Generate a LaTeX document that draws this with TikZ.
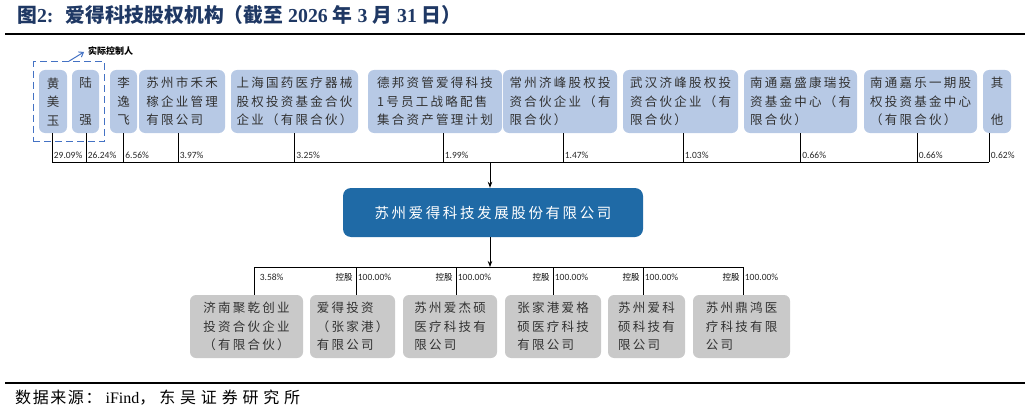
\documentclass[tikz,border=0pt]{standalone}
\usepackage{fontspec}
\setmainfont{Liberation Serif}
\newfontfamily\cjkfont{Noto Sans CJK SC}
\newfontfamily\boxfont[LetterSpace=18]{Noto Sans CJK SC}
\newfontfamily\srcfont[LetterSpace=10]{Noto Sans CJK SC}
\newfontfamily\srcwidefont[LetterSpace=30]{Noto Sans CJK SC}
\newfontfamily\pctfont{Carlito}
\usetikzlibrary{arrows.meta,fit,positioning}
\definecolor{topblue}{RGB}{183,201,229}
\definecolor{botgray}{RGB}{201,201,201}
\definecolor{mainblue}{RGB}{31,106,166}
\definecolor{ctrlblue}{RGB}{68,114,196}
\definecolor{titleblue}{RGB}{31,56,100}
\definecolor{boxtext}{RGB}{50,50,50}
\newcommand\tnum[1]{{\rmfamily\bfseries #1}}
\tikzset{
  tbox/.style={rounded corners=6pt,fill=topblue,inner sep=0pt,minimum height=63pt,align=left,text=boxtext,font=\boxfont\fontsize{12.5}{18.5}\selectfont},
  bbox/.style={tbox,fill=botgray},
  pct/.style={font=\pctfont\fontsize{9.5}{11}\selectfont,inner sep=1.5pt,text=black!85},
  link/.style={line width=0.8pt},
}
\begin{document}
\begin{tikzpicture}[x=1pt,y=-1pt]
\useasboundingbox(0,0)rectangle(1031,412);
%title and rules
\node[anchor=west,inner sep=0pt,text=titleblue,font=\cjkfont\bfseries\fontsize{19.8}{22}\selectfont]at(17,15)(title){图\tnum{2:}\hspace{12pt}爱得科技股权机构（截至\tnum{ 2026 }年\tnum{ 3 }月\tnum{ 31 }日）};
\draw[line width=2.2pt](5,34)--(1025,34);
\draw[line width=1.5pt](5,383)--(1025,383);
\node[anchor=west,inner sep=0pt,font=\srcfont\fontsize{16}{18}\selectfont]at(15,398)(src){数据来源：\hspace{4pt}{\rmfamily iFind}，\hspace{4pt}{\srcwidefont 东吴证券研究所}};

%shareholders
\node[tbox,align=center,minimum width=28pt]at(53,101.5)(hmy){黄\\美\\玉};
\node[tbox,align=center,minimum width=27pt]at(85.5,101.5)(lq){陆\\\phantom{陆}\\强};
\node[tbox,align=center,minimum width=27pt]at(123.5,101.5)(lyf){李\\逸\\飞};
\node[tbox,minimum width=86pt]at(182,101.5)(hhj){苏州市禾禾\\稼企业管理\\有限公司};
\node[tbox,minimum width=127pt]at(294.5,101.5)(shgy){上海国药医疗器械\\股权投资基金合伙\\企业（有限合伙）};
\node[tbox,minimum width=134pt]at(435,101.5)(db){德邦资管爱得科技\\1号员工战略配售\\集合资产管理计划};
\node[tbox,minimum width=114pt]at(560,101.5)(czjf){常州济峰股权投\\资合伙企业（有\\限合伙）};
\node[tbox,minimum width=115pt]at(680.5,101.5)(whjf){武汉济峰股权投\\资合伙企业（有\\限合伙）};
\node[tbox,minimum width=113pt]at(800.5,101.5)(ntjs){南通嘉盛康瑞投\\资基金中心（有\\限合伙）};
\node[tbox,minimum width=113pt]at(920.5,101.5)(ntjl){南通嘉乐一期股\\权投资基金中心\\（有限合伙）};
\node[tbox,align=center,minimum width=28pt]at(997,101.5)(qt){其\\\phantom{其}\\他};

%actual controllers
\node[draw=ctrlblue,dashed,dash pattern=on 7pt off 4pt,line width=1.3pt,inner xsep=5.5pt,inner ysep=8pt,fit=(hmy)(lq)](ctrl){};
\node[anchor=west,inner sep=0pt,font=\cjkfont\bfseries\fontsize{9}{10}\selectfont]at(88,51)(sjkzr){实际控制人};
\draw[ctrlblue,line width=1pt,-{Straight Barb[length=4pt,width=6pt]}](ctrl.north)--([xshift=-4pt,yshift=-1pt]sjkzr.west);

%upper bus with holdings
\coordinate(tbus)at(0,162);
\foreach \n/\s/\p in {hmy/-1/29.09,lq/0.5/26.24,lyf/0/6.56,hhj/-4/3.97,shgy/0/3.25,db/8/1.99,czjf/3/1.47,whjf/2.5/1.03,ntjs/0/0.66,ntjl/-3.5/0.66,qt/-8/0.62}{
\draw[link]([xshift=\s pt]\n.south)--([xshift=\s pt]\n.south |- tbus)node[pct,pos=0.76,right]{\p\%};
}
\draw[link]([xshift=-1pt]hmy.south |- tbus)--([xshift=-8pt]qt.south |- tbus);

%company
\node[rounded corners=8pt,fill=mainblue,minimum width=300pt,minimum height=49pt,inner sep=0pt,text=white,font=\boxfont\fontsize{14.5}{16}\selectfont]at(493,212.5)(aide){苏州爱得科技发展股份有限公司};
\draw[link,-{Stealth[length=6pt,width=4.5pt]}]([xshift=-3pt]aide.north |- tbus)--([xshift=-3pt]aide.north);

%subsidiaries
\node[bbox,minimum width=113pt]at(246.5,326.5)(jn){济南聚乾创业\\投资合伙企业\\（有限合伙）};
\node[bbox,minimum width=85pt]at(352.5,326.5)(adtz){爱得投资\\（张家港）\\有限公司};
\node[bbox,minimum width=94pt]at(450,326.5)(ajs){苏州爱杰硕\\医疗科技有\\限公司};
\node[bbox,minimum width=96pt]at(553,326.5)(agsh){张家港爱格\\硕医疗科技\\有限公司};
\node[bbox,minimum width=77pt]at(646.5,326.5)(aks){苏州爱科\\硕科技有\\限公司};
\node[bbox,minimum width=97pt]at(741.5,326.5)(dh){苏州鼎鸿医\\疗科技有限\\公司};

%lower bus
\coordinate(bbus)at(0,267);
\draw[link,-{Stealth[length=6pt,width=4.5pt]}]([xshift=-3pt]aide.south)--([xshift=-3pt]aide.south |- bbus);
\draw[link]([xshift=7.5pt]jn.north |- bbus)--([xshift=1.5pt]dh.north |- bbus);
\draw[link]([xshift=7.5pt]jn.north |- bbus)--([xshift=7.5pt]jn.north)node[pct,pos=0.36,right,xshift=4pt]{3.58\%};
\foreach \n/\s in {adtz/3.5,ajs/6,agsh/0,aks/-3.5,dh/1.5}{
\draw[link]([xshift=\s pt]\n.north |- bbus)--([xshift=\s pt]\n.north)
  node[pct,pos=0.36,right]{100.00\%}
  node[pos=0.36,left,inner sep=3pt,font=\cjkfont\fontsize{8.5}{10}\selectfont]{控股};
}
\end{tikzpicture}
\end{document}
